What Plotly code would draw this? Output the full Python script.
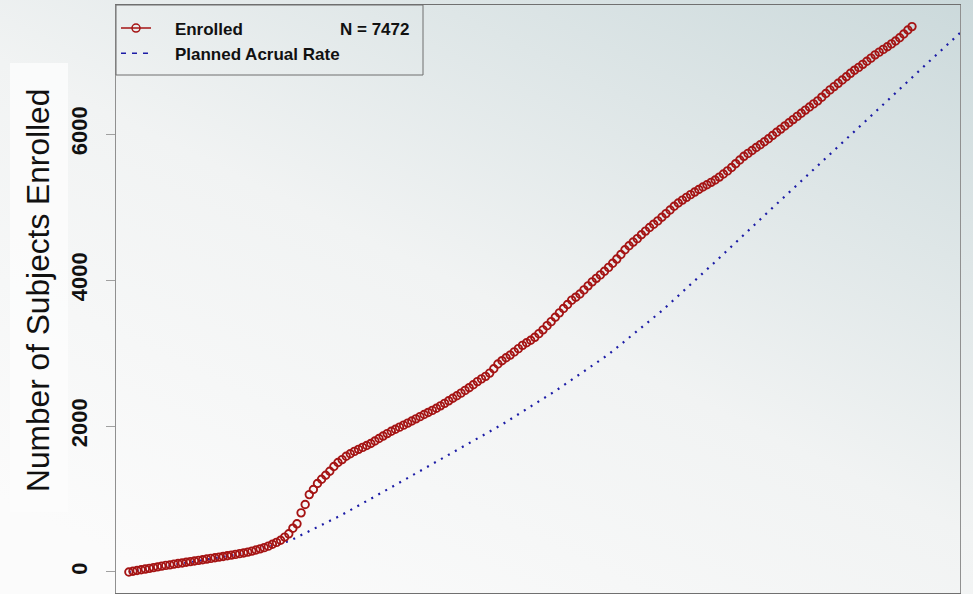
import base64
import numpy as np
import pandas as pd
import plotly.graph_objects as go

# cumulative enrolment, one value per week
enrolled = [
    0, 10, 20, 30, 40, 50, 60, 70, 80, 90,
    98, 107, 116, 124, 133, 142, 150, 159, 168, 177,
    186, 195, 204, 213, 222, 231, 241, 251, 261, 272,
    286, 301, 317, 333, 354, 380, 405, 435, 478, 523,
    600, 660, 810, 925, 1060, 1130, 1212, 1270, 1325, 1380,
    1445, 1500, 1540, 1585, 1620, 1652, 1680, 1707, 1733, 1760,
    1795, 1829, 1862, 1896, 1928, 1956, 1984, 2012, 2040, 2068,
    2098, 2128, 2158, 2186, 2214, 2243, 2276, 2310, 2345, 2380,
    2414, 2450, 2488, 2525, 2565, 2608, 2645, 2680, 2725, 2785,
    2850, 2895, 2935, 2972, 3015, 3060, 3105, 3140, 3175, 3215,
    3265, 3317, 3375, 3430, 3490, 3550, 3610, 3665, 3724, 3765,
    3809, 3865, 3920, 3975, 4023, 4070, 4120, 4173, 4230, 4287,
    4350, 4415, 4470, 4520, 4567, 4620, 4670, 4720, 4765, 4810,
    4860, 4910, 4960, 5010, 5055, 5095, 5133, 5170, 5205, 5240,
    5274, 5306, 5338, 5370, 5410, 5452, 5495, 5542, 5594, 5645,
    5695, 5735, 5775, 5815, 5854, 5894, 5935, 5980, 6025, 6068,
    6111, 6155, 6198, 6242, 6285, 6328, 6370, 6413, 6455, 6505,
    6555, 6605, 6650, 6695, 6740, 6785, 6832, 6875, 6913, 6955,
    6998, 7040, 7085, 7122, 7160, 7196, 7235, 7275, 7320, 7370,
    7425, 7472,
]

# planned accrual, week offset -> subjects
planned_weeks = [0, 13, 26, 39, 52, 65, 78, 91, 104, 117, 130, 143, 156, 169, 182, 195, 203]
planned = [0, 120, 235, 420, 784, 1192, 1602, 2020, 2479, 2981, 3578, 4249, 4937, 5625, 6300, 6984, 7400]

y_ticks = [0, 2000, 4000, 6000]

start = pd.Timestamp("2005-02-07")
enroll_dates = pd.date_range(start, periods=len(enrolled), freq="7D")
planned_dates = start + pd.to_timedelta(np.array(planned_weeks) * 7, unit="D")

RED = "#a51414"
BLUE = "#1c1ca6"
FONT = "Liberation Sans, Arial, sans-serif"

# soft diagonal gradient used as page background
svg = (
    "<svg xmlns='http://www.w3.org/2000/svg' width='973' height='594' preserveAspectRatio='none'>"
    "<defs><linearGradient id='g' x1='0.2' y1='1' x2='1' y2='0'>"
    "<stop offset='0' stop-color='#fbfbfb'/>"
    "<stop offset='0.45' stop-color='#f1f3f3'/>"
    "<stop offset='1' stop-color='#cbd9db'/>"
    "</linearGradient></defs>"
    "<rect width='973' height='594' fill='url(#g)'/></svg>"
)
bg_src = "data:image/svg+xml;base64," + base64.b64encode(svg.encode()).decode()

fig = go.Figure()

fig.add_trace(go.Scatter(
    x=planned_dates, y=planned, mode="lines",
    line=dict(color=BLUE, width=2.2, dash="2px,6px"),
    showlegend=False, hoverinfo="skip",
))
fig.add_trace(go.Scatter(
    x=enroll_dates, y=enrolled, mode="markers",
    marker=dict(symbol="circle-open", size=7.5, color=RED, line=dict(width=1.9, color=RED)),
    showlegend=False,
))

# legend-only entries
nb = "\u00a0" * 4
fig.add_trace(go.Scatter(
    x=[None], y=[None], mode="lines+markers", name=nb + "Enrolled",
    line=dict(color=RED, width=1.5),
    marker=dict(symbol="circle-open", size=8, color=RED, line=dict(width=1.5)),
))
fig.add_trace(go.Scatter(
    x=[None], y=[None], mode="lines", name=nb + "Planned Acrual Rate",
    line=dict(color=BLUE, width=1.5, dash="5px,6px"),
))

W, H = 973, 594
L, R, T, B = 116, 13, 5, 1
pw, ph = W - L - R, H - T - B

def px_x(p):
    return (p - L) / pw

def px_y(p):
    return (H - B - p) / ph

fig.add_layout_image(
    source=bg_src, xref="paper", yref="paper",
    x=px_x(0), y=px_y(0), sizex=W / pw, sizey=H / ph,
    xanchor="left", yanchor="top", sizing="stretch", layer="below",
)

# light panel behind the axis title
fig.add_shape(type="rect", xref="paper", yref="paper",
              x0=px_x(10), x1=px_x(68), y0=px_y(512), y1=px_y(63),
              fillcolor="rgba(252,252,252,0.8)", line=dict(width=0), layer="below")
# legend frame
fig.add_shape(type="rect", xref="paper", yref="paper",
              x0=0, x1=px_x(423), y0=px_y(75), y1=1,
              fillcolor="rgba(0,0,0,0)", line=dict(color="#6e6e6e", width=1))

fig.add_annotation(text="N = 7472", xref="paper", yref="paper",
                   x=px_x(411), y=px_y(29), xanchor="right", yanchor="middle",
                   showarrow=False,
                   font=dict(family=FONT, size=17, color="#111", weight="bold"))

# axis title
fig.add_annotation(text="Number of Subjects Enrolled", xref="paper", yref="paper",
                   x=px_x(38), y=px_y(291), xanchor="center", yanchor="middle",
                   textangle=-90, showarrow=False,
                   font=dict(family=FONT, size=31.7, color="#111"))

fig.update_layout(
    width=W, height=H,
    margin=dict(l=L, r=R, t=T, b=B, autoexpand=False),
    paper_bgcolor="rgba(0,0,0,0)",
    plot_bgcolor="rgba(0,0,0,0)",
    showlegend=True,
    legend=dict(x=0, y=px_y(10.5), xanchor="left", yanchor="top",
                bgcolor="rgba(0,0,0,0)", borderwidth=0,
                font=dict(family=FONT, size=17, color="#111", weight="bold"),
                tracegroupgap=0),
    xaxis=dict(
        range=["2005-01-16", "2008-12-27"],
        dtick="M1", tick0="2005-01-01",
        ticks="outside", ticklen=5, tickcolor="#444",
        showticklabels=False, showgrid=False, zeroline=False, automargin=False,
        showline=True, linecolor="#707070", linewidth=1, mirror=True,
    ),
    yaxis=dict(
        range=[-288, 7768],
        tickmode="array", tickvals=y_ticks, ticktext=[str(v) for v in y_ticks],
        tickangle=-90,
        ticks="outside", ticklen=9, tickcolor="#a0a0a0",
        ticklabelstandoff=10,
        tickfont=dict(family=FONT, size=22, color="#111", weight="bold"),
        showgrid=False, zeroline=False, automargin=False,
        showline=True, linecolor="#909090", linewidth=1, mirror=True,
    ),
)

fig.write_html("out.html", config={"displayModeBar": False},
               post_script="document.body.style.margin = '0';")
